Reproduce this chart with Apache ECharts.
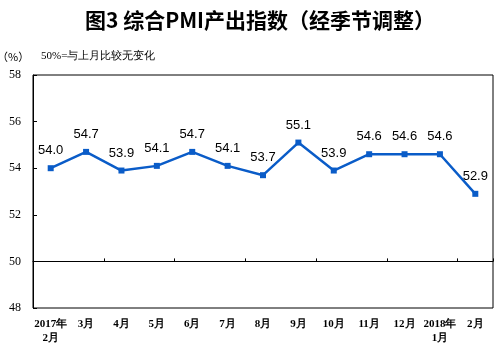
<!DOCTYPE html>
<html><head><meta charset="utf-8">
<script src="https://cdn.jsdelivr.net/npm/echarts@6/dist/echarts.min.js"></script>
<style>html,body{margin:0;padding:0;background:#fff}#c{width:501px;height:347px}</style>
</head><body><div id="c"></div>
<script>
const categories = ['2017年\n2月','3月','4月','5月','6月','7月','8月','9月','10月','11月','12月','2018年\n1月','2月'];
const values = [54.0, 54.7, 53.9, 54.1, 54.7, 54.1, 53.7, 55.1, 53.9, 54.6, 54.6, 54.6, 52.9];
const yTicks = [48, 50, 52, 54, 56, 58];

const chart = echarts.init(document.getElementById('c'), null, {renderer:'canvas'});
const serif = 'Liberation Serif, Times New Roman, serif';
chart.setOption({
  animation: false,
  title: [
    {text: '图3 综合PMI产出指数（经季节调整）', left: 80, top: 5,
     textStyle: {fontSize: 21, fontWeight: 'bold', color: '#000', fontFamily: 'Noto Sans CJK SC'}},
    {text: '（%）', left: -3, top: 51, padding: 0, textStyle: {fontSize: 11, fontWeight: 'normal', color: '#000', fontFamily: 'Noto Sans CJK SC'}},
    {text: '50%=与上月比较无变化', left: 36, top: 46, textStyle: {fontSize: 11, fontWeight: 'normal', color: '#000', fontFamily: serif}}
  ],
  grid: {left: 33, right: 8, top: 75, bottom: 39, show: true, borderColor: '#000', borderWidth: 1},
  xAxis: [
    {type: 'category', data: categories, boundaryGap: true,
     axisLine: {show: false}, axisTick: {show: false},
     axisLabel: {interval: 0, fontSize: 11, fontWeight: 'bold', color: '#000', fontFamily: serif, margin: 9, lineHeight: 14}},
    {type: 'category', data: categories, boundaryGap: true, position: 'bottom', offset: -46.6,
     axisLine: {show: true, lineStyle: {color: '#000', width: 1}},
     axisTick: {show: true, inside: true, length: 3, lineStyle: {color: '#000'}},
     axisLabel: {show: false}}
  ],
  yAxis: {type: 'value', min: 48, max: 58, interval: 2,
    axisLine: {show: true, lineStyle: {color: '#000'}},
    axisTick: {show: true, inside: true, length: 4, lineStyle: {color: '#000'}},
    splitLine: {show: false},
    axisLabel: {fontSize: 12, color: '#000', fontFamily: serif, margin: 12,
      formatter: v => yTicks.includes(v) ? String(v) : ''}},
  series: [{
    type: 'line', data: values, xAxisIndex: 0,
    symbol: 'rect', symbolSize: 6,
    lineStyle: {color: '#0a5cc8', width: 2.5},
    itemStyle: {color: '#0a5cc8'},
    label: {show: true, position: 'top', distance: 8, fontSize: 13, color: '#000',
      fontFamily: 'Liberation Sans, Arial, sans-serif', formatter: p => p.value.toFixed(1)}
  }]
});
</script></body></html>
